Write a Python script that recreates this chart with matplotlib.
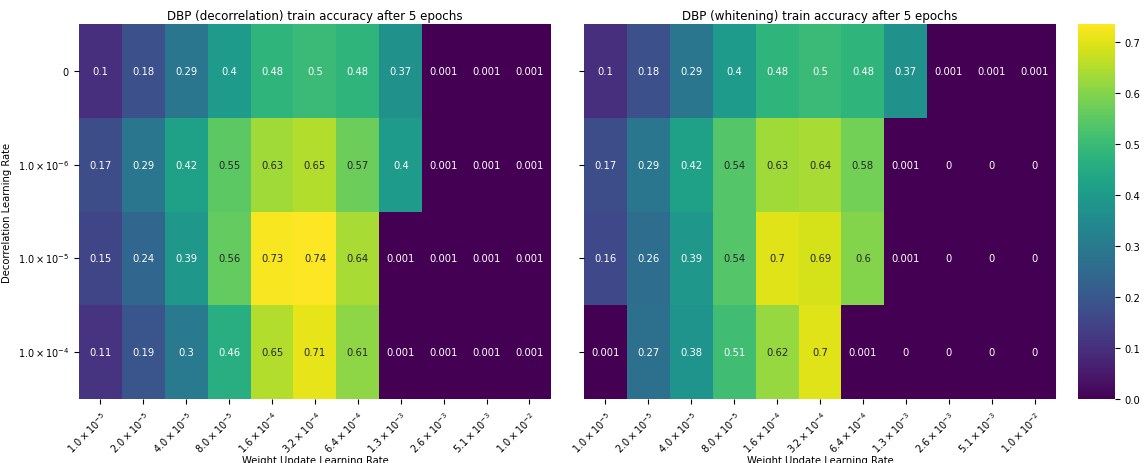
import matplotlib
matplotlib.use("Agg")
import matplotlib.pyplot as plt
import numpy as np
import seaborn as sns

weight_lrs = ["1.0\\times10^{-5}", "2.0\\times10^{-5}", "4.0\\times10^{-5}", "8.0\\times10^{-5}",
              "1.6\\times10^{-4}", "3.2\\times10^{-4}", "6.4\\times10^{-4}", "1.3\\times10^{-3}",
              "2.6\\times10^{-3}", "5.1\\times10^{-3}", "1.0\\times10^{-2}"]
decor_lrs = ["0", "1.0\\times10^{-6}", "1.0\\times10^{-5}", "1.0\\times10^{-4}"]

acc_decorrelation = [
    [0.1, 0.18, 0.29, 0.4, 0.48, 0.5, 0.48, 0.37, 0.001, 0.001, 0.001],
    [0.17, 0.29, 0.42, 0.55, 0.63, 0.65, 0.57, 0.4, 0.001, 0.001, 0.001],
    [0.15, 0.24, 0.39, 0.56, 0.73, 0.736, 0.64, 0.001, 0.001, 0.001, 0.001],
    [0.11, 0.19, 0.3, 0.46, 0.65, 0.71, 0.61, 0.001, 0.001, 0.001, 0.001],
]
acc_whitening = [
    [0.1, 0.18, 0.29, 0.4, 0.48, 0.5, 0.48, 0.37, 0.001, 0.001, 0.001],
    [0.17, 0.29, 0.42, 0.54, 0.63, 0.64, 0.58, 0.001, 0, 0, 0],
    [0.16, 0.26, 0.39, 0.54, 0.7, 0.69, 0.6, 0.001, 0, 0, 0],
    [0.001, 0.27, 0.38, 0.51, 0.62, 0.7, 0.001, 0, 0, 0, 0],
]

titles = ["DBP (decorrelation) train accuracy after 5 epochs",
          "DBP (whitening) train accuracy after 5 epochs"]

FS = 7.0

fig = plt.figure(figsize=(11.44, 4.64), dpi=100)
ax_l = fig.add_axes([0.069, 0.138, 0.4126, 0.808])
ax_r = fig.add_axes([0.5105, 0.138, 0.4126, 0.808])
cax = fig.add_axes([0.9423, 0.138, 0.0324, 0.808])

vmax = max(np.max(acc_decorrelation), np.max(acc_whitening))

for i, (ax, data, title) in enumerate(zip([ax_l, ax_r], [acc_decorrelation, acc_whitening], titles)):
    sns.heatmap(np.array(data), ax=ax, cmap="viridis", vmin=0, vmax=vmax,
                annot=True, fmt=".2g", annot_kws={"fontsize": 7.2},
                cbar=(i == 1), cbar_ax=cax if i == 1 else None)
    ax.set_title(title, fontsize=8.6, pad=4)
    ax.set_xticks(np.arange(len(weight_lrs)) + 0.5)
    ax.set_xticklabels(["$" + s + "$" for s in weight_lrs], rotation=45,
                       ha="right", rotation_mode="anchor", fontsize=FS)
    ax.set_yticks(np.arange(len(decor_lrs)) + 0.5)
    if i == 0:
        ax.set_yticklabels(["$" + s + "$" for s in decor_lrs], rotation=0, fontsize=FS)
        ax.set_ylabel("Decorrelation Learning Rate", fontsize=7.2)
    else:
        ax.set_yticklabels([])
    ax.set_xlabel("Weight Update Learning Rate", fontsize=7.2, labelpad=0)
    ax.tick_params(length=3.5, width=0.8)

cax.tick_params(labelsize=7.2, length=3.5)

plt.savefig("out.png", dpi=100)
